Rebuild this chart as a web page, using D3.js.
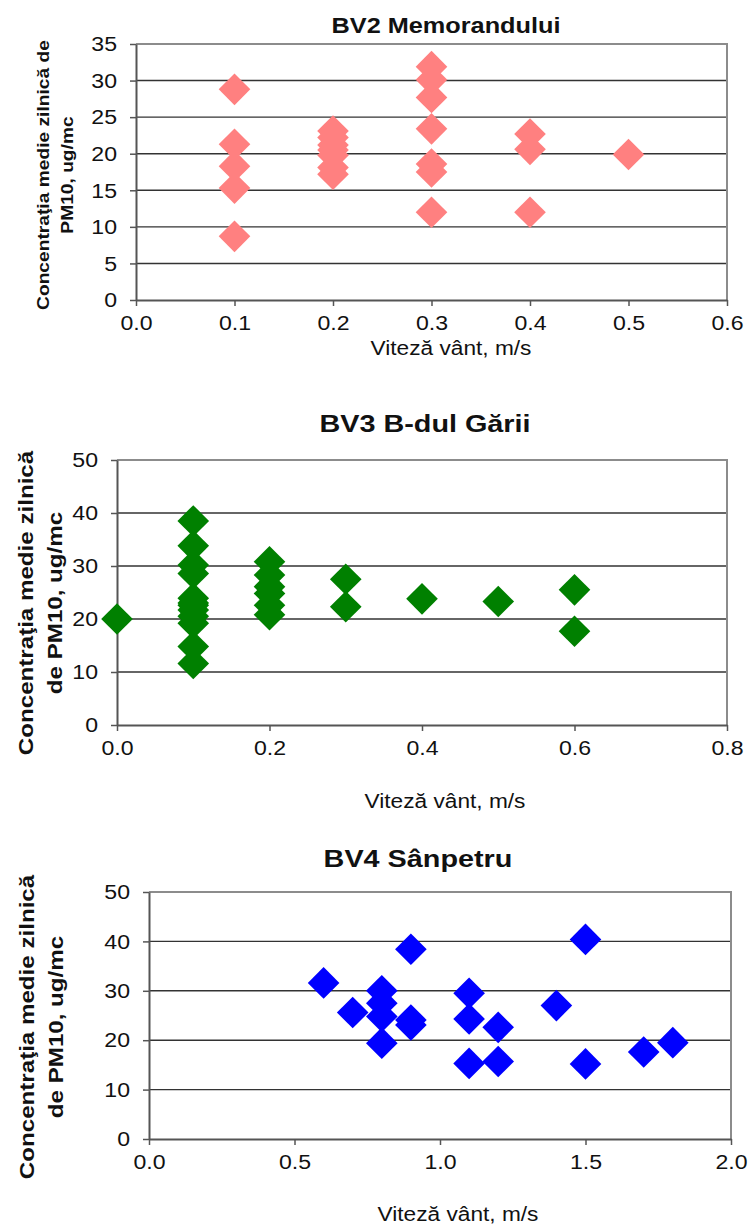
<!DOCTYPE html>
<html>
<head>
<meta charset="utf-8">
<script src="https://cdn.jsdelivr.net/npm/d3@7"></script>
<style>
  body { margin: 0; background: #fff; }
  text { font-family: "Liberation Sans", Arial, sans-serif; }
</style>
</head>
<body>
<div id="chart"></div>
<script>
// values: wind speed (m/s) and daily mean PM10 (ug/mc)
var bv2Wind = [0.1, 0.1, 0.1, 0.1, 0.1,
               0.2, 0.2, 0.2, 0.2, 0.2, 0.2, 0.2,
               0.3, 0.3, 0.3, 0.3, 0.3, 0.3, 0.3,
               0.4, 0.4, 0.4,
               0.5];
var bv2Pm10 = [28.8, 21.3, 18.3, 15.3, 8.7,
               23.1, 22.2, 21.2, 20.5, 19.8, 18.1, 17.2,
               31.9, 30.1, 27.7, 23.4, 18.6, 17.5, 12.0,
               22.7, 20.6, 12.0,
               19.9];

var bv3Wind = [0.0,
               0.1, 0.1, 0.1, 0.1, 0.1, 0.1, 0.1, 0.1, 0.1, 0.1, 0.1, 0.1,
               0.2, 0.2, 0.2, 0.2, 0.2, 0.2,
               0.3, 0.3,
               0.4,
               0.5,
               0.6, 0.6];
var bv3Pm10 = [20.0,
               38.5, 33.8, 30.2, 28.6, 23.9, 23.0, 22.6, 21.7, 20.5, 19.2, 14.8, 11.6,
               30.8, 28.3, 26.1, 24.8, 22.6, 20.8,
               27.5, 22.3,
               23.8,
               23.3,
               25.5, 17.7];

var bv4Wind = [0.6, 0.7, 0.8, 0.8, 0.8, 0.8, 0.9, 0.9, 0.9,
               1.1, 1.1, 1.1, 1.2, 1.2, 1.4, 1.5, 1.5, 1.7, 1.8];
var bv4Pm10 = [31.6, 25.6, 30.0, 27.5, 24.8, 19.4, 38.4, 24.1, 23.1,
               29.5, 24.3, 15.3, 22.6, 15.7, 27.0, 40.4, 15.2, 17.6, 19.5];

var titles = ["BV2 Memorandului", "BV3 B-dul Gării", "BV4 Sânpetru"];
var xTitle = "Viteză vânt, m/s";
var yTitleLines = [
  ["Concentraţia medie zilnică de", "PM10, ug/mc"],
  ["Concentraţia medie zilnică", "de PM10, ug/mc"],
  ["Concentraţia medie zilnică", "de PM10, ug/mc"]
];
var xTicks = [
  [0, 0.1, 0.2, 0.3, 0.4, 0.5, 0.6],
  [0, 0.2, 0.4, 0.6, 0.8],
  [0, 0.5, 1.0, 1.5, 2.0]
];
var yTicks = [
  [0, 5, 10, 15, 20, 25, 30, 35],
  [0, 10, 20, 30, 40, 50],
  [0, 10, 20, 30, 40, 50]
];

var svg = d3.select("#chart")
  .append("svg")
    .attr("width", 749)
    .attr("height", 1225);

// layout of the three panels
var panels = [
  {x: bv2Wind, y: bv2Pm10, color: "#ff8080",
   left: 136, right: 727, top: 44, bottom: 300,
   titleX: 446, titleY: 33, titleSize: 22, titleStretch: 1.15,
   xtX: 451, xtY: 355,
   ylX: [43, 67], ylY: 175, ylSize: 17, ylStretch: 1.13},
  {x: bv3Wind, y: bv3Pm10, color: "#008000",
   left: 117, right: 727, top: 460, bottom: 725,
   titleX: 425, titleY: 432, titleSize: 24, titleStretch: 1.2,
   xtX: 445, xtY: 808,
   ylX: [26, 55], ylY: 603, ylSize: 21, ylStretch: 1.15},
  {x: bv4Wind, y: bv4Pm10, color: "#0000ff",
   left: 149, right: 731, top: 892, bottom: 1139,
   titleX: 418, titleY: 867, titleSize: 24, titleStretch: 1.2,
   xtX: 458, xtY: 1221,
   ylX: [27, 56], ylY: 1027, ylSize: 21, ylStretch: 1.15}
];

var diamond = d3.symbol().type(d3.symbolSquare).size(500);

// widen a text around its own anchor point
function stretch(sel, s) {
  sel.attr("transform", function() {
    var x = +this.getAttribute("x") || 0;
    return "translate(" + x + ",0) scale(" + s + ",1) translate(" + (-x) + ",0)";
  });
}

panels.forEach(function(p, i) {
  var xt = xTicks[i], yt = yTicks[i];
  var x = d3.scaleLinear()
      .domain([xt[0], xt[xt.length - 1]])
      .range([p.left, p.right]);
  var y = d3.scaleLinear()
      .domain([yt[0], yt[yt.length - 1]])
      .range([p.bottom, p.top]);

  var g = svg.append("g");

  // grid lines
  g.append("g")
    .selectAll("line")
    .data(yt.slice(1, -1))
    .enter().append("line")
      .attr("x1", p.left).attr("x2", p.right)
      .attr("y1", function(d) { return y(d); })
      .attr("y2", function(d) { return y(d); })
      .attr("stroke", "#333")
      .attr("stroke-width", 1.4);

  // plot frame (top + right)
  g.append("path")
    .attr("d", "M" + p.left + "," + p.top + "H" + p.right + "V" + p.bottom)
    .attr("fill", "none")
    .attr("stroke", "#8c8c8c")
    .attr("stroke-width", 2);

  // axes
  var xAxis = g.append("g")
    .attr("transform", "translate(0," + p.bottom + ")")
    .call(d3.axisBottom(x).tickValues(xt).tickFormat(d3.format(".1f"))
      .tickSizeInner(6).tickSizeOuter(0).tickPadding(9));
  var yAxis = g.append("g")
    .attr("transform", "translate(" + p.left + ",0)")
    .call(d3.axisLeft(y).tickValues(yt).tickFormat(d3.format("d"))
      .tickSizeInner(6).tickSizeOuter(0).tickPadding(13));

  [xAxis, yAxis].forEach(function(a) {
    a.select(".domain").attr("stroke", "#555").attr("stroke-width", 2);
    a.selectAll(".tick line").attr("stroke", "#555").attr("stroke-width", 1.5);
    a.selectAll(".tick text")
      .attr("fill", "#111")
      .style("font-size", "21px")
      .call(stretch, 1.1);
  });

  // points
  g.append("g")
    .selectAll("path")
    .data(p.x.map(function(v, k) { return [v, p.y[k]]; }))
    .enter().append("path")
      .attr("d", diamond)
      .attr("transform", function(d) {
        return "translate(" + x(d[0]) + "," + y(d[1]) + ") rotate(45)";
      })
      .attr("fill", p.color);

  // title
  g.append("text")
    .attr("transform", "translate(" + p.titleX + "," + p.titleY + ") scale(" + p.titleStretch + ",1)")
    .attr("text-anchor", "middle")
    .style("font-size", p.titleSize + "px").style("font-weight", "bold")
    .attr("fill", "#111")
    .text(titles[i]);

  // x axis title
  g.append("text")
    .attr("transform", "translate(" + p.xtX + "," + p.xtY + ") scale(1.08,1)")
    .attr("text-anchor", "middle")
    .style("font-size", "21px")
    .attr("fill", "#111")
    .text(xTitle);

  // y axis title, two lines
  yTitleLines[i].forEach(function(line, k) {
    g.append("text")
      .attr("transform", "translate(" + p.ylX[k] + "," + p.ylY + ") rotate(-90) scale(" + p.ylStretch + ",1)")
      .attr("text-anchor", "middle")
      .attr("dy", "0.35em")
      .style("font-size", p.ylSize + "px").style("font-weight", "bold")
      .attr("fill", "#111")
      .text(line);
  });
});
</script>
</body>
</html>
